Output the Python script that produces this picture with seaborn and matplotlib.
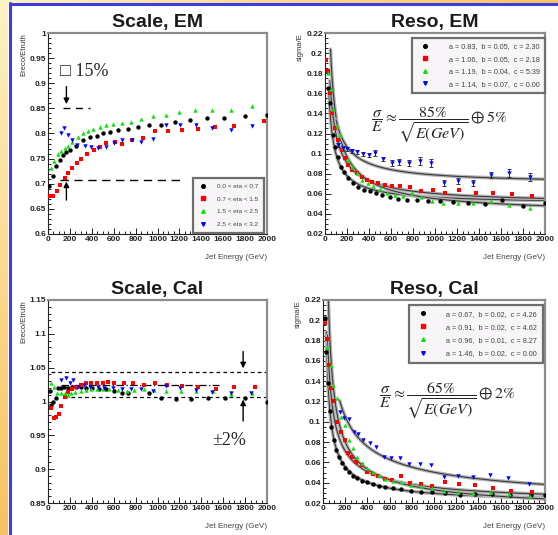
import numpy as np
import matplotlib.pyplot as plt
import seaborn as sns
from matplotlib.ticker import MultipleLocator, FuncFormatter
from matplotlib.lines import Line2D
from matplotlib.colors import LinearSegmentedColormap

# --- DATA ---
eta_labels = ["0.0 < eta < 0.7", "0.7 < eta < 1.5", "1.5 < eta < 2.5", "2.5 < eta < 3.2"]

# Scale, EM
sem_e_black = [10, 46, 76, 107, 137, 168, 198, 253, 320, 382, 443, 504, 565, 641, 733, 818, 925, 1032, 1160, 1298, 1450, 1609, 1802, 2000]
sem_black = [0.696, 0.715, 0.735, 0.748, 0.758, 0.763, 0.767, 0.776, 0.788, 0.793, 0.796, 0.800, 0.803, 0.806, 0.809, 0.812, 0.816, 0.817, 0.822, 0.827, 0.830, 0.831, 0.834, 0.837]
sem_e_red = [15, 46, 82, 113, 153, 183, 223, 266, 305, 357, 418, 473, 534, 611, 678, 763, 870, 977, 1099, 1221, 1368, 1527, 1695, 1970]
sem_red = [0.675, 0.675, 0.685, 0.698, 0.711, 0.721, 0.731, 0.741, 0.749, 0.760, 0.768, 0.773, 0.781, 0.784, 0.780, 0.788, 0.792, 0.804, 0.804, 0.806, 0.808, 0.812, 0.814, 0.824]
sem_e_green = [31, 55, 92, 122, 153, 183, 223, 275, 321, 366, 412, 473, 528, 595, 672, 754, 849, 956, 1075, 1200, 1347, 1499, 1670, 1863]
sem_green = [0.731, 0.745, 0.760, 0.765, 0.771, 0.776, 0.784, 0.793, 0.800, 0.804, 0.809, 0.813, 0.816, 0.818, 0.821, 0.822, 0.829, 0.834, 0.837, 0.843, 0.846, 0.846, 0.847, 0.855]
sem_e_blue = [116, 147, 183, 223, 266, 336, 397, 458, 528, 602, 675, 763, 852, 962, 1075, 1206, 1350, 1502, 1670, 1863]
sem_blue = [0.801, 0.811, 0.798, 0.788, 0.778, 0.775, 0.773, 0.771, 0.774, 0.781, 0.788, 0.788, 0.784, 0.789, 0.816, 0.816, 0.816, 0.811, 0.806, 0.814]

# Reso, EM
rem_e_black = [30, 45, 70, 91, 115, 145, 176, 212, 258, 303, 358, 409, 461, 521, 591, 661, 742, 833, 939, 1045, 1167, 1303, 1455, 1606, 1803, 2000]
rem_black = [0.165, 0.150, 0.119, 0.107, 0.097, 0.087, 0.082, 0.076, 0.071, 0.067, 0.064, 0.063, 0.061, 0.059, 0.057, 0.055, 0.054, 0.054, 0.053, 0.053, 0.052, 0.051, 0.050, 0.054, 0.048, 0.051]
rem_e_red = [9, 30, 45, 67, 91, 121, 152, 182, 212, 248, 291, 333, 379, 430, 485, 545, 606, 682, 773, 873, 979, 1091, 1221, 1370, 1530, 1697, 1885]
rem_red = [0.193, 0.182, 0.160, 0.140, 0.125, 0.114, 0.104, 0.096, 0.089, 0.084, 0.081, 0.077, 0.074, 0.072, 0.071, 0.069, 0.068, 0.068, 0.067, 0.063, 0.064, 0.061, 0.064, 0.061, 0.061, 0.060, 0.058]
rem_e_green = [30, 55, 76, 106, 136, 167, 206, 242, 288, 333, 388, 439, 500, 561, 636, 712, 788, 870, 970, 1076, 1212, 1348, 1509, 1673, 1864]
rem_green = [0.180, 0.164, 0.144, 0.127, 0.119, 0.107, 0.094, 0.087, 0.081, 0.074, 0.071, 0.068, 0.065, 0.061, 0.059, 0.058, 0.061, 0.057, 0.053, 0.051, 0.051, 0.051, 0.053, 0.049, 0.046]
rem_e_blue = [121, 161, 197, 242, 294, 348, 400, 455, 530, 606, 673, 764, 864, 961, 1082, 1212, 1348, 1506, 1673, 1864]
rem_blue = [0.109, 0.106, 0.105, 0.103, 0.102, 0.100, 0.099, 0.101, 0.095, 0.091, 0.092, 0.091, 0.093, 0.091, 0.071, 0.073, 0.071, 0.079, 0.081, 0.077]
rem_blue_err = [0.002, 0.002, 0.002, 0.002, 0.002, 0.002, 0.002, 0.003, 0.002, 0.003, 0.003, 0.003, 0.004, 0.004, 0.003, 0.003, 0.003, 0.003, 0.004, 0.004]
rem_a = [0.83, 1.06, 1.19, 1.14]
rem_b = [0.05, 0.05, 0.04, 0.07]
rem_c = [2.30, 2.18, 5.39, 0.00]
rem_fit_start = [35, 45, 50, 100]

# Scale, Cal
scl_e_black = [15, 30, 50, 70, 90, 120, 150, 180, 220, 260, 300, 350, 400, 470, 530, 606, 680, 727, 924, 1030, 1167, 1303, 1460, 1612, 1803, 2000]
scl_black = [1.015, 0.995, 1.000, 1.005, 1.020, 1.020, 1.022, 1.020, 1.022, 1.022, 1.022, 1.020, 1.020, 1.018, 1.018, 1.015, 1.013, 1.012, 1.012, 1.005, 1.003, 1.004, 1.005, 1.005, 1.005, 0.999]
scl_e_red = [30, 55, 76, 97, 121, 152, 182, 218, 258, 303, 348, 394, 448, 500, 545, 606, 691, 773, 873, 976, 1091, 1227, 1373, 1530, 1697, 1888]
scl_red = [0.990, 0.976, 0.977, 0.982, 0.994, 1.007, 1.014, 1.019, 1.022, 1.024, 1.027, 1.027, 1.027, 1.027, 1.029, 1.027, 1.027, 1.027, 1.025, 1.027, 1.025, 1.023, 1.021, 1.019, 1.021, 1.022]
scl_e_green = [30, 55, 85, 115, 152, 182, 212, 248, 297, 348, 394, 448, 503, 561, 636, 721, 788, 873, 970, 1082, 1212, 1348, 1503, 1667, 1864]
scl_green = [1.027, 1.022, 1.012, 1.012, 1.012, 1.009, 1.012, 1.014, 1.015, 1.017, 1.018, 1.018, 1.018, 1.019, 1.017, 1.015, 1.017, 1.019, 1.017, 1.015, 1.015, 1.015, 1.015, 1.011, 1.013]
scl_e_blue = [115, 161, 197, 227, 273, 333, 388, 455, 515, 591, 673, 758, 848, 955, 1076, 1203, 1348, 1500, 1667, 1858]
scl_blue = [1.032, 1.035, 1.027, 1.032, 1.022, 1.024, 1.022, 1.022, 1.020, 1.020, 1.019, 1.018, 1.018, 1.015, 1.023, 1.020, 1.017, 1.014, 1.012, 1.013]

# Reso, Cal
rcl_e_black = [15, 30, 45, 60, 75, 99, 120, 144, 171, 202, 235, 271, 310, 352, 400, 451, 502, 562, 632, 707, 791, 881, 983, 1098, 1233, 1368, 1519, 1684, 1874, 2000]
rcl_black = [0.202, 0.169, 0.138, 0.111, 0.095, 0.082, 0.072, 0.065, 0.059, 0.054, 0.051, 0.047, 0.045, 0.042, 0.041, 0.039, 0.037, 0.036, 0.035, 0.034, 0.032, 0.031, 0.031, 0.030, 0.028, 0.029, 0.029, 0.028, 0.028, 0.028]
rcl_e_red = [15, 39, 51, 75, 99, 129, 165, 195, 226, 262, 301, 352, 400, 451, 496, 556, 626, 701, 782, 881, 983, 1098, 1227, 1368, 1528, 1693, 1886]
rcl_red = [0.197, 0.182, 0.156, 0.133, 0.120, 0.100, 0.090, 0.082, 0.069, 0.065, 0.060, 0.057, 0.051, 0.049, 0.047, 0.044, 0.043, 0.047, 0.040, 0.039, 0.037, 0.041, 0.039, 0.038, 0.035, 0.032, 0.031]
rcl_e_green = [39, 69, 90, 129, 165, 195, 232, 271, 310, 352, 400, 451, 502, 562, 632, 707, 791, 881, 983, 1089, 1218, 1353, 1513, 1675, 1865]
rcl_green = [0.174, 0.156, 0.136, 0.123, 0.105, 0.097, 0.082, 0.074, 0.065, 0.059, 0.054, 0.051, 0.048, 0.044, 0.042, 0.041, 0.038, 0.037, 0.035, 0.032, 0.031, 0.030, 0.031, 0.029, 0.027]
rcl_e_blue = [150, 189, 232, 280, 316, 361, 421, 481, 550, 617, 692, 773, 872, 971, 1089, 1218, 1353, 1504, 1669, 1859]
rcl_blue = [0.110, 0.104, 0.103, 0.090, 0.088, 0.082, 0.079, 0.075, 0.065, 0.064, 0.064, 0.058, 0.058, 0.057, 0.046, 0.047, 0.046, 0.048, 0.045, 0.039]
rcl_a = [0.67, 0.91, 0.96, 1.46]
rcl_b = [0.02, 0.02, 0.01, 0.02]
rcl_c = [4.26, 4.62, 8.27, 0.00]
rcl_fit_start = [30, 40, 45, 150]

# --- STYLE ---
sns.set_style("ticks")
plt.rcParams.update({'font.family': ['Liberation Sans', 'DejaVu Sans'],
                     'mathtext.fontset': 'stix'})
COLORS = ['#000000', '#ff0000', '#10e010', '#0000ff']
MARKERS = ['o', 's', '^', 'v']
SERIF = ['Liberation Serif', 'DejaVu Serif']

fig = plt.figure(figsize=(5.58, 5.35), dpi=100)
fig.patch.set_facecolor('white')

# slide background: gradient strip on the left, blue rules
cm_bg = LinearSegmentedColormap.from_list('bg', ['#fdf2c2', '#f9c260'])
bg = fig.add_axes([0, 0, 8 / 558, 1])
bg.imshow(np.linspace(0, 1, 256)[:, None], aspect='auto', cmap=cm_bg, extent=[0, 1, 0, 1])
bg.axis('off')
top = fig.add_axes([0, 1 - 3 / 535, 1, 3 / 535])
top.imshow(np.linspace(0, 1, 256)[None, :], aspect='auto', cmap=cm_bg, extent=[0, 1, 0, 1])
top.axis('off')
fig.add_artist(Line2D([9.5 / 558, 9.5 / 558], [0, 1 - 3 / 535], color='#3c3ce0', lw=2.2))
fig.add_artist(Line2D([9.5 / 558, 1], [1 - 4 / 535, 1 - 4 / 535], color='#3c3ce0', lw=2.2))


def make_axes(rect, title, ylim, ymajor, yminor, ylabel):
    ax = fig.add_axes(rect)
    ax.set_xlim(0, 2000)
    ax.set_ylim(*ylim)
    ax.xaxis.set_major_locator(MultipleLocator(200))
    ax.xaxis.set_minor_locator(MultipleLocator(50))
    ax.yaxis.set_major_locator(MultipleLocator(ymajor))
    ax.yaxis.set_minor_locator(MultipleLocator(yminor))
    fmt = FuncFormatter(lambda v, p: f"{v:g}")
    ax.xaxis.set_major_formatter(fmt)
    ax.yaxis.set_major_formatter(fmt)
    ax.tick_params(which='both', direction='in', top=False, right=False,
                   labelsize=6, pad=1.5, width=0.7, colors='#222222')
    ax.tick_params(which='major', length=4)
    ax.tick_params(which='minor', length=2)
    for lab in ax.get_xticklabels() + ax.get_yticklabels():
        lab.set_fontweight('bold')
    for s in ['top', 'right']:
        ax.spines[s].set_color('#8c8c8c')
        ax.spines[s].set_linewidth(1.6)
    for s in ['left', 'bottom']:
        ax.spines[s].set_color('#222222')
        ax.spines[s].set_linewidth(0.8)
    ax.set_title(title, fontsize=14, fontweight='bold', pad=4, color='#1a1a1a')
    ax.set_ylabel(ylabel, fontsize=5.5, loc='top', color='#333333')
    ax.yaxis.set_label_coords(-0.095, 1.0)
    ax.set_xlabel('Jet Energy (GeV)', fontsize=5.8, loc='right', color='#444444')
    ax.xaxis.set_label_coords(1.0, -0.1)
    return ax


def points(ax, e, v, i, yerr=None):
    if yerr is not None:
        ax.errorbar(e, v, yerr=yerr, fmt='none', ecolor='#333333', elinewidth=0.7, capsize=1.5, capthick=0.7)
    sns.scatterplot(x=e, y=v, color=COLORS[i], marker=MARKERS[i], s=10, linewidth=0, ax=ax, zorder=3)


def fit_curve(ax, emin, a, b, c):
    grid = np.linspace(emin, 2000, 300)
    res = np.sqrt((a / np.sqrt(grid)) ** 2 + b ** 2 + (c / grid) ** 2)
    sns.lineplot(x=grid, y=res, color='#b4b4b4', lw=2.6, ax=ax, zorder=2)
    sns.lineplot(x=grid, y=res, color='#3a3a3a', lw=0.8, ax=ax, zorder=2)


def add_legend(ax, labels, loc, anchor, fs, hl, htp, ls, bp):
    handles = [Line2D([], [], ls='none', marker=MARKERS[i], color=COLORS[i], markersize=2.6)
               for i in range(4)]
    leg = ax.legend(handles, labels, loc=loc, bbox_to_anchor=anchor, fontsize=fs,
                    frameon=True, fancybox=False, handlelength=hl, handletextpad=htp,
                    borderpad=bp, labelspacing=ls, borderaxespad=0)
    fr = leg.get_frame()
    fr.set_edgecolor('#6e6e6e')
    fr.set_linewidth(1.6)
    fr.set_facecolor('#f8f5f8')
    fr.set_alpha(1)
    for t in leg.get_texts():
        t.set_color('#444444')


def fit_label(a, b, c):
    return f"a = {a:.2f},  b = {b:.2f},  c = {c:.2f}"


W, H = 558, 535
# ---- Scale, EM ----
ax1 = make_axes([48 / W, 1 - 234 / H, 219 / W, 201 / H], 'Scale, EM', (0.6, 1.0), 0.05, 0.01, 'Ereco/Etruth')
for i, (e, v) in enumerate([(sem_e_black, sem_black), (sem_e_red, sem_red),
                            (sem_e_green, sem_green), (sem_e_blue, sem_blue)]):
    points(ax1, e, v, i)
ax1.plot([137, 382], [0.851, 0.851], color='black', lw=1, ls=(0, (5, 4)))
ax1.plot([107, 1206], [0.707, 0.707], color='black', lw=1, ls=(0, (6, 4)))
ax1.annotate('', xy=(168, 0.853), xytext=(168, 0.899),
             arrowprops=dict(arrowstyle='-|>', color='black', lw=1, mutation_scale=8))
ax1.annotate('', xy=(168, 0.710), xytext=(168, 0.662),
             arrowprops=dict(arrowstyle='-|>', color='black', lw=1, mutation_scale=8))
ax1.text(110, 0.924, '\u25a1 15%', fontsize=13, family=SERIF, va='center', ha='left')
add_legend(ax1, eta_labels, 'lower right', (0.985, 0.005), 4.6, 1.2, 1.6, 1.15, 0.9)

# ---- Reso, EM ----
ax2 = make_axes([325 / W, 1 - 234 / H, 220 / W, 201 / H], 'Reso, EM', (0.02, 0.22), 0.02, 0.005, 'sigma/E')
rem_sets = [(rem_e_black, rem_black), (rem_e_red, rem_red), (rem_e_green, rem_green), (rem_e_blue, rem_blue)]
for i in range(4):
    fit_curve(ax2, rem_fit_start[i], rem_a[i], rem_b[i], rem_c[i])
for i, (e, v) in enumerate(rem_sets):
    points(ax2, e, v, i, yerr=rem_blue_err if i == 3 else None)
add_legend(ax2, [fit_label(rem_a[i], rem_b[i], rem_c[i]) for i in range(4)],
           'upper right', (1.0, 0.975), 5.2, 2.2, 2.2, 0.75, 0.7)
ax2.text(0.52, 0.545, r'$\dfrac{\sigma}{E}\approx\dfrac{85\%}{\sqrt{E(GeV)}}\oplus 5\%$',
         transform=ax2.transAxes, fontsize=11.5, ha='center', va='center')

# ---- Scale, Cal ----
ax3 = make_axes([48 / W, 1 - 503 / H, 219 / W, 203 / H], 'Scale, Cal', (0.85, 1.15), 0.05, 0.01, 'Ereco/Etruth')
for i, (e, v) in enumerate([(scl_e_black, scl_black), (scl_e_red, scl_red),
                            (scl_e_green, scl_green), (scl_e_blue, scl_blue)]):
    points(ax3, e, v, i)
ax3.plot([30, 2000], [1.044, 1.044], color='black', lw=0.9, ls=(0, (3, 2.5)))
ax3.plot([150, 2000], [1.006, 1.006], color='black', lw=0.9, ls=(0, (3, 2.5)))
ax3.plot([120, 1560], [1.024, 1.024], color='black', lw=0.9, ls=(0, (6, 2, 1, 2)))
ax3.annotate('', xy=(1782, 1.045), xytext=(1782, 1.078),
             arrowprops=dict(arrowstyle='-|>', color='black', lw=1, mutation_scale=8))
ax3.annotate('', xy=(1782, 1.007), xytext=(1782, 0.967),
             arrowprops=dict(arrowstyle='-|>', color='black', lw=1, mutation_scale=8))
ax3.text(1500, 0.943, '\u00b12%', fontsize=13, family=SERIF, va='center', ha='left')

# ---- Reso, Cal ----
ax4 = make_axes([323 / W, 1 - 503 / H, 222 / W, 203 / H], 'Reso, Cal', (0.02, 0.22), 0.02, 0.005, 'sigma/E')
rcl_sets = [(rcl_e_black, rcl_black), (rcl_e_red, rcl_red), (rcl_e_green, rcl_green), (rcl_e_blue, rcl_blue)]
for i in range(4):
    fit_curve(ax4, rcl_fit_start[i], rcl_a[i], rcl_b[i], rcl_c[i])
for i, (e, v) in enumerate(rcl_sets):
    points(ax4, e, v, i)
add_legend(ax4, [fit_label(rcl_a[i], rcl_b[i], rcl_c[i]) for i in range(4)],
           'upper right', (0.99, 0.975), 5.2, 2.2, 2.2, 0.85, 0.75)
ax4.text(0.56, 0.505, r'$\dfrac{\sigma}{E}\approx\dfrac{65\%}{\sqrt{E(GeV)}}\oplus 2\%$',
         transform=ax4.transAxes, fontsize=11.5, ha='center', va='center')

fig.savefig('out.png', dpi=100)
